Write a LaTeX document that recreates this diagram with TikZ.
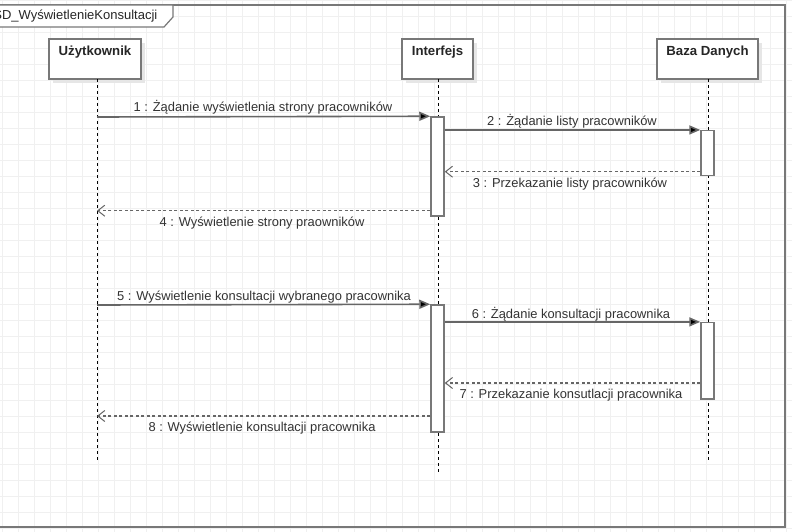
\documentclass[tikz,border=0pt]{standalone}
\usepackage{fontspec}
\setmainfont{Liberation Sans}
\usetikzlibrary{arrows.meta}
\definecolor{gridc}{HTML}{F0F0F0}
\definecolor{edgec}{HTML}{787878}
\definecolor{linec}{HTML}{666666}
\definecolor{txtc}{HTML}{333333}
\definecolor{shadowc}{HTML}{E6E6E6}
\tikzset{
  actor/.style={draw=edgec, line width=1.8pt, fill=white, minimum width=#1, minimum height=40pt, inner sep=0pt},
  actorname/.style={font=\fontsize{13.2}{15}\selectfont\bfseries, text=black!85},
  bar/.style={draw=edgec, line width=1.5pt, fill=white, minimum width=13pt, inner sep=0pt},
  lifeline/.style={draw=black, line width=0.8pt, dash pattern=on 3pt off 3pt},
  callmsg/.style={draw=linec, line width=1.6pt, -{Triangle[length=11pt,width=9pt,fill=black]}},
  retmsg/.style={draw=linec, line width=1.5pt, dash pattern=on 3pt off 2.5pt, -{Straight Barb[length=7pt,width=11pt,line width=1pt]}},
  msglabel/.style={font=\fontsize{12.9}{15}\selectfont, text=txtc, anchor=base, inner sep=0pt},
}
\begin{document}
\begin{tikzpicture}[x=1pt,y=-1pt]
\useasboundingbox (0,0) rectangle (792,532);
\fill[white] (0,0) rectangle (792,532);
% grid
\foreach \gx in {2,18,...,792} \draw[gridc, line width=0.5pt] (\gx,0) -- (\gx,532);
\foreach \gy in {0,16,...,532} \draw[gridc, line width=0.5pt] (0,\gy) -- (792,\gy);
% frame
\draw[edgec, line width=2pt] (-3,5) rectangle (785,527);
\draw[edgec, line width=1.2pt, fill=white] (-3,5) -- (173,5) -- (173,17) -- (164,27) -- (-3,27) -- cycle;
\node[font=\fontsize{13}{15}\selectfont, text=black!85, anchor=east, inner sep=0pt] (title) at (157.5,16.5) {SD\_WyświetlenieKonsultacji};
% actor shadows
\fill[shadowc] (53,43) rectangle (145,83);
\fill[shadowc] (406,43) rectangle (477,83);
\fill[shadowc] (661,43) rectangle (762,83);
% actors
\node[actor=92pt] (user) at (95,59) {};
\node[actor=71pt] (ui) at (437.5,59) {};
\node[actor=101pt] (db) at (707.5,59) {};
\node[actorname] (userl) at (95,52.5) {Użytkownik};
\node[actorname] (uil) at (437.5,52.5) {Interfejs};
\node[actorname] (dbl) at (707.5,52.5) {Baza Danych};
% lifeline ends
\coordinate (uend) at (97,461);
\coordinate (iend) at (438.5,472);
\coordinate (dend) at (708.5,461);
\draw[lifeline] (97,79) -- (uend);
\draw[lifeline] (438.5,79) -- (iend);
\draw[lifeline] (708.5,79) -- (dend);
% activation bars
\node[bar, minimum height=99pt] (b1) at (437.5,166.5) {};
\node[bar, minimum height=45pt] (b2) at (707.5,153.2) {};
\node[bar, minimum height=127pt] (b3) at (437.5,368.5) {};
\node[bar, minimum height=76.5pt] (b4) at (707.5,360.9) {};
% message anchor points on user lifeline
\coordinate (u1) at (97,117);
\coordinate (u4) at (97,210.7);
\coordinate (u5) at (97,305);
\coordinate (u8) at (97,416);
% messages
\draw[callmsg] (u1) -- (b1.north west);
\node[msglabel] (l1) at (263,112) {1 : Żądanie wyświetlenia strony pracowników};
\draw[callmsg] (b1.east |- b2.north) -- (b2.north west);
\node[msglabel] (l2) at (572,126) {2 : Żądanie listy pracowników};
\draw[retmsg] (b2.south west |- 0,171.7) coordinate (r3s) -- (b1.east |- r3s);
\node[msglabel] (l3) at (570,187) {3 : Przekazanie listy pracowników};
\draw[retmsg] (b1.west |- u4) -- (u4);
\node[msglabel] (l4) at (262,226) {4 : Wyświetlenie strony praowników};
\draw[callmsg] (u5) -- (b3.north west);
\node[msglabel] (l5) at (264,300) {5 : Wyświetlenie konsultacji wybranego pracownika};
\draw[callmsg] (b3.east |- b4.north) -- (b4.north west);
\node[msglabel] (l6) at (571,318) {6 : Żądanie konsultacji pracownika};
\draw[retmsg] (b4.west |- 0,383) coordinate (r7s) -- (b3.east |- r7s);
\node[msglabel] (l7) at (571,398) {7 : Przekazanie konsutlacji pracownika};
\draw[retmsg] (b3.west |- u8) -- (u8);
\node[msglabel] (l8) at (262,431) {8 : Wyświetlenie konsultacji pracownika};
\end{tikzpicture}
\end{document}
